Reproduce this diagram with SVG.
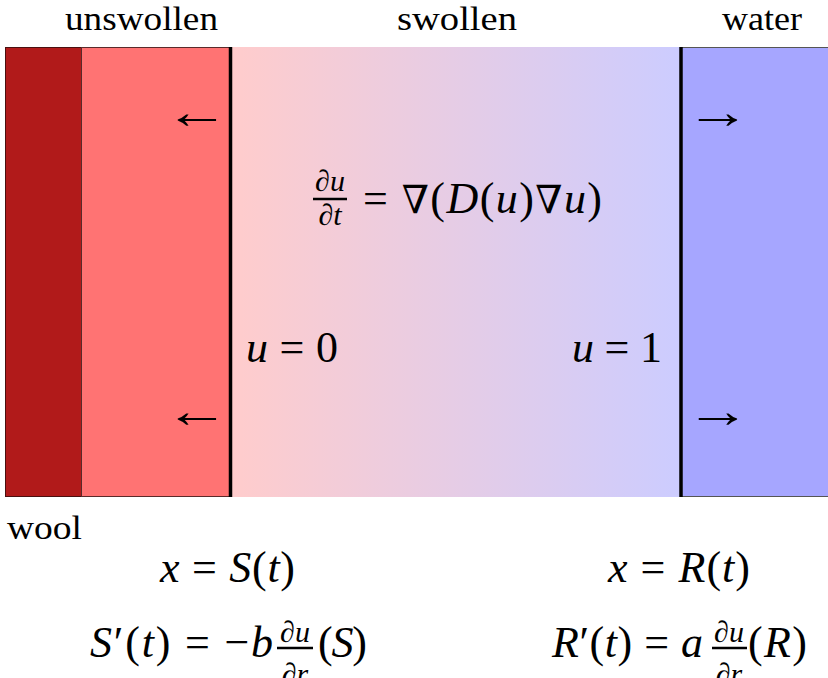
<svg xmlns="http://www.w3.org/2000/svg" width="828" height="678" viewBox="0 0 828 678">
<style>
text{font-family:'Liberation Serif',serif;fill:#000}
.lbl{font-size:33px}
.m{font-size:44px}
.mf{font-size:30px;font-style:italic}
.i{font-style:italic}
.nb{font-family:'DejaVu Serif',serif;font-size:39px}
.arr{font-size:48px}
.bar{stroke:#000;stroke-width:2.5}
.wall{stroke:#000;stroke-width:3.5}
</style>
<defs>
<linearGradient id="sw" x1="0" x2="1" y1="0" y2="0">
<stop offset="0" stop-color="#ffcccc"/>
<stop offset="1" stop-color="#ccccff"/>
</linearGradient>
</defs>
<rect width="828" height="678" fill="#fff"/>
<g id="wool">
<rect x="5.5" y="47.5" width="76" height="449" fill="#b11a1a" stroke="#4a1010" stroke-width="1"/>
</g>
<g id="unswollen">
<rect x="81.5" y="47.5" width="149" height="449" fill="#ff7373" stroke="#5a2a2a" stroke-width="1"/>
</g>
<g id="swollen">
<rect x="232" y="47" width="449" height="450" fill="url(#sw)"/>
</g>
<g id="water">
<rect x="681.5" y="47.5" width="150" height="449" fill="#a6a6ff" stroke="#555" stroke-width="1"/>
</g>
<g id="boundaries">
<line class="wall" x1="230.5" y1="47" x2="230.5" y2="497"/>
<line class="wall" x1="681" y1="47" x2="681" y2="497"/>
</g>
<g id="arrows">
<text class="arr" transform="translate(164.5,127.5) scale(1.35,1)">←</text>
<text class="arr" transform="translate(164.5,426.5) scale(1.35,1)">←</text>
<text class="arr" transform="translate(685.5,127.5) scale(1.35,1)">→</text>
<text class="arr" transform="translate(685.5,426.5) scale(1.35,1)">→</text>
</g>
<g id="labels">
<text class="lbl" x="65" y="30" textLength="153" lengthAdjust="spacingAndGlyphs">unswollen</text>
<text class="lbl" x="397" y="30" textLength="120" lengthAdjust="spacingAndGlyphs">swollen</text>
<text class="lbl" x="722" y="30" textLength="80" lengthAdjust="spacingAndGlyphs">water</text>
<text class="lbl" x="7" y="539" textLength="75" lengthAdjust="spacingAndGlyphs">wool</text>
</g>
<g id="pde">
<text class="mf" x="330" y="191" text-anchor="middle">∂u</text>
<line class="bar" x1="313" y1="199" x2="347" y2="199"/>
<text class="mf" x="330" y="225" text-anchor="middle">∂t</text>
<text class="m" x="363" y="213" textLength="239">= <tspan class="nb">∇</tspan>(<tspan class="i">D</tspan>(<tspan class="i">u</tspan>)<tspan class="nb">∇</tspan><tspan class="i">u</tspan>)</text>
</g>
<g id="bc">
<text class="m" x="246" y="362" textLength="92"><tspan class="i">u</tspan> = 0</text>
<text class="m" x="572" y="362" textLength="90"><tspan class="i">u</tspan> = 1</text>
</g>
<g id="left-front">
<text class="m" x="160" y="582" textLength="135"><tspan class="i">x</tspan> = <tspan class="i">S</tspan>(<tspan class="i">t</tspan>)</text>
<text class="m" x="90" y="657" textLength="183"><tspan class="i">S</tspan>′(<tspan class="i">t</tspan>) = −<tspan class="i">b</tspan></text>
<text class="mf" x="295" y="642" text-anchor="middle">∂u</text>
<line class="bar" x1="277" y1="648" x2="313" y2="648"/>
<text class="mf" x="295" y="684" text-anchor="middle">∂r</text>
<text class="m" x="318" y="657" textLength="49">(<tspan class="i">S</tspan>)</text>
</g>
<g id="right-front">
<text class="m" x="608" y="582" textLength="142"><tspan class="i">x</tspan> = <tspan class="i">R</tspan>(<tspan class="i">t</tspan>)</text>
<text class="m" x="552" y="657" textLength="151"><tspan class="i">R</tspan>′(<tspan class="i">t</tspan>) = <tspan class="i">a</tspan></text>
<text class="mf" x="729" y="642" text-anchor="middle">∂u</text>
<line class="bar" x1="712" y1="648" x2="747" y2="648"/>
<text class="mf" x="729" y="684" text-anchor="middle">∂r</text>
<text class="m" x="748" y="657" textLength="59">(<tspan class="i">R</tspan>)</text>
</g>
</svg>
